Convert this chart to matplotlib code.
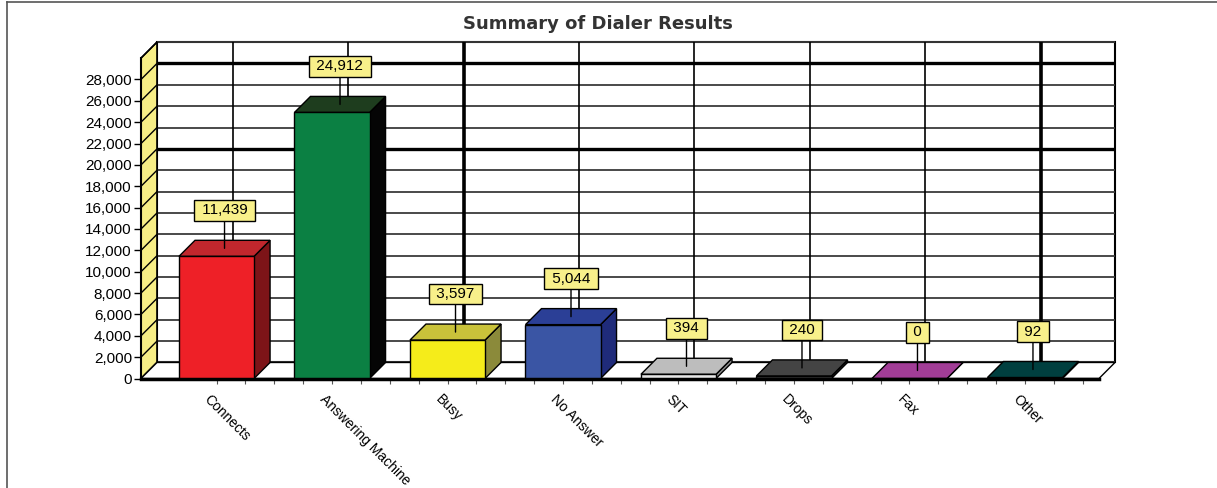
import matplotlib
matplotlib.use('Agg')
import matplotlib.pyplot as plt
from matplotlib.patches import Polygon
from matplotlib.lines import Line2D
from matplotlib.transforms import ScaledTranslation
import numpy as np

# ---------------- data ----------------
categories = ['Connects', 'Answering Machine', 'Busy', 'No Answer', 'SIT', 'Drops', 'Fax', 'Other']
values = [11439, 24912, 3597, 5044, 394, 240, 0, 92]
value_labels = ['11,439', '24,912', '3,597', '5,044', '394', '240', '0', '92']
front_colors = ['#EE2027', '#0B8043', '#F5EC1A', '#3A55A4', '#E6E6E6', '#3A3A3A', '#A23D97', '#003F3F']
top_colors = ['#C1272D', '#1E3D1E', '#C9C23A', '#2B3F96', '#BDBDBD', '#444444', '#A23D97', '#003F3F']
side_colors = ['#7D1418', '#050505', '#8B8A3A', '#1F2B7A', '#8A8A8A', '#222222', '#7A2A72', '#002A2A']
y_ticks = list(range(0, 28001, 2000))
title = 'Summary of Dialer Results'

plt.rcParams['font.family'] = ['Liberation Sans', 'DejaVu Sans']

W, H = 1217, 488
fig = plt.figure(figsize=(W / 100, H / 100), dpi=100)
fig.patch.set_facecolor('white')

# front plane of the 3D box
ax = fig.add_axes([141 / W, (H - 378.5) / H, (1099 - 141) / W, (378.5 - 58.1) / H])
XL, XR = -0.654, 7.641
YMAX = 30000
DX, DY = 0.1385, 1500   # depth offset (data units)
BW = 0.65               # bar width
ax.set_xlim(XL, XR)
ax.set_ylim(0, YMAX)
ax.set_facecolor('none')

for s in ['top', 'right']:
    ax.spines[s].set_visible(False)
ax.spines['left'].set_linewidth(1.5)
ax.spines['bottom'].set_linewidth(2.5)
ax.spines['left'].set_zorder(4)
ax.spines['bottom'].set_zorder(4)

ax.set_yticks(y_ticks)
ax.set_yticklabels([f'{v:,}' for v in y_ticks])
ax.tick_params(axis='y', direction='out', length=5, width=1, pad=1.5, labelsize=11)
ax.set_xticks(range(len(categories)))
ax.set_xticks(np.arange(0, 7.51, 0.25), minor=True)
ax.tick_params(axis='x', which='both', direction='out', length=3.5, width=0.8,
               labelbottom=False, color='#555555')


def poly(pts, fc, ec='black', lw=1.0, z=1.0):
    p = Polygon(pts, closed=True, facecolor=fc, edgecolor=ec, linewidth=lw,
                clip_on=False, zorder=z)
    ax.add_patch(p)
    return p


def line(xs, ys, c='#333333', lw=1.3, z=1.1):
    ax.add_line(Line2D(xs, ys, color=c, linewidth=lw, clip_on=False, zorder=z,
                       solid_capstyle='butt'))


# back wall
poly([(XL + DX, DY), (XR + DX, DY), (XR + DX, YMAX + DY), (XL + DX, YMAX + DY)],
     'white', ec='black', lw=1.5, z=0.5)
# horizontal gridlines on back wall
for v in range(0, YMAX + 1, 2000):
    thick = v in (20000, 28000)
    line([XL + DX, XR + DX], [v + DY, v + DY], c='black' if thick else '#3a3a3a',
         lw=2.4 if thick else 1.3)
# vertical gridlines on back wall
for i in range(len(categories)):
    thick = i in (2, 7)
    line([i + DX, i + DX], [DY, YMAX + DY], c='black', lw=2.6 if thick else 1.2)

# yellow side wall
poly([(XL, 0), (XL + DX, DY), (XL + DX, YMAX + DY), (XL, YMAX)], '#F7EE86',
     ec='black', lw=1.2, z=1.3)
for v in range(0, YMAX + 1, 2000):
    line([XL, XL + DX], [v, v + DY], c='black', lw=1.0, z=1.4)

# floor
poly([(XL, 0), (XR, 0), (XR + DX, DY), (XL + DX, DY)], 'white', ec='black', lw=1.0, z=1.5)

# bars
for i, v in enumerate(values):
    l, r = i - BW / 2, i + BW / 2
    poly([(r, 0), (r + DX, DY), (r + DX, v + DY), (r, v)], side_colors[i], z=3.0)
    poly([(l, v), (r, v), (r + DX, v + DY), (l + DX, v + DY)], top_colors[i], z=3.1)
    poly([(l, 0), (r, 0), (r, v), (l, v)], front_colors[i], z=3.2)

# value label boxes with leader lines
for i, (v, lbl) in enumerate(zip(values, value_labels)):
    ax.annotate(' ' + lbl + ' ', xy=(i + DX / 2, v + DY / 2), xytext=(0, 38),
                textcoords='offset pixels', ha='center', va='center', fontsize=11,
                bbox=dict(boxstyle='square,pad=0.22', fc='#F8F08A', ec='black', lw=1.0),
                arrowprops=dict(arrowstyle='-', color='black', lw=1.0,
                                shrinkA=0, shrinkB=0),
                annotation_clip=False, zorder=6)

# category labels (rotated)
off = ScaledTranslation(-10 / 100, -19 / 100, fig.dpi_scale_trans)
for i, c in enumerate(categories):
    ax.text(i, 0, c, transform=ax.get_xaxis_transform() + off, rotation=-45,
            rotation_mode='anchor', ha='left', va='center', fontsize=10, color='black')

# title
fig.text(598 / W, 1 - 24 / H, title, ha='center', va='center', fontsize=13,
         fontweight='bold', color='#333333', family=['DejaVu Sans'])

# outer frame lines
fig.add_artist(Line2D([7 / W, 1], [1 - 1.5 / H, 1 - 1.5 / H], transform=fig.transFigure,
                      color='#555555', lw=1.2))
fig.add_artist(Line2D([7 / W, 7 / W], [0, 1 - 1.5 / H], transform=fig.transFigure,
                      color='#555555', lw=1.2))

fig.savefig('out.png', dpi=100)
